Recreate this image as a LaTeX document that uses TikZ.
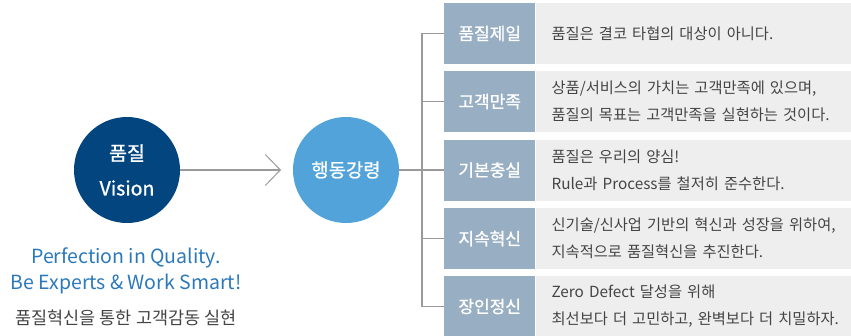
\documentclass[tikz,border=0pt]{standalone}
\usepackage{fontspec}
\setmainfont{Noto Sans CJK KR}
\newfontfamily\medfont{Noto Sans CJK KR}[FakeBold=1]
\usepackage{xcolor}
\usetikzlibrary{arrows.meta, positioning}
\definecolor{visionblue}{HTML}{03467F}
\definecolor{actionblue}{HTML}{52A3D9}
\definecolor{labelgray}{HTML}{98AFC3}
\definecolor{descgray}{HTML}{EEEEEE}
\definecolor{linkgray}{HTML}{9A9A9A}
\definecolor{mottoblue}{HTML}{2B79BA}
\definecolor{textdark}{HTML}{444444}

\begin{document}
\begin{tikzpicture}[x=1pt, y=-1pt,
    circlestyle/.style={circle, minimum size=106pt, inner sep=0pt, text=white,
      align=center},
    labelbox/.style={fill=labelgray, minimum width=91pt, minimum height=61pt,
      inner sep=0pt, text=white, font=\medfont\fontsize{17pt}{20pt}\selectfont,
      anchor=west},
    descbox/.style={fill=descgray, minimum height=61pt, text width=310pt,
      inner xsep=16pt, inner ysep=0pt, align=left, text=textdark,
      font=\fontsize{15.3pt}{27pt}\selectfont, anchor=west},
    linkstyle/.style={linkgray, line width=1.2pt}]
  \useasboundingbox (0,0) rectangle (851,335);
  % circles
  \node[circlestyle, fill=visionblue, font=\medfont\fontsize{19.5pt}{35pt}\selectfont]
    (vision) at (127,170) {품질\\Vision};
  \node[circlestyle, fill=actionblue, font=\medfont\fontsize{18.8pt}{22pt}\selectfont]
    (action) at (346,170) {행동강령};
  % motto under the first circle
  \node[text=mottoblue, align=center, font=\fontsize{19.5pt}{26.5pt}\selectfont]
    (motto) at (126,271) {Perfection in Quality.\\Be Experts \& Work Smart!};
  \node[text=textdark, font=\fontsize{17.5pt}{20pt}\selectfont]
    (slogan) at (126,318) {품질혁신을 통한 고객감동 실현};
  % rows: label + description
  \node[labelbox] (l1) at (444,33.5)  {품질제일};
  \node[labelbox] (l2) at (444,101.5) {고객만족};
  \node[labelbox] (l3) at (444,170)   {기본충실};
  \node[labelbox] (l4) at (444,238.5) {지속혁신};
  \node[labelbox] (l5) at (444,306.5) {장인정신};
  \node[descbox] (d1) at (l1.east) {품질은 결코 타협의 대상이 아니다.};
  \node[descbox] (d2) at (l2.east) {상품/서비스의 가치는 고객만족에 있으며,\\품질의 목표는 고객만족을 실현하는 것이다.};
  \node[descbox] (d3) at (l3.east) {품질은 우리의 양심!\\Rule과 Process를 철저히 준수한다.};
  \node[descbox] (d4) at (l4.east) {신기술/신사업 기반의 혁신과 성장을 위하여,\\지속적으로 품질혁신을 추진한다.};
  \node[descbox] (d5) at (l5.east) {Zero Defect 달성을 위해\\최선보다 더 고민하고, 완벽보다 더 치밀하자.};
  % connectors
  \coordinate (tip) at (281,170);
  \coordinate (trunk) at (422,170);
  \draw[linkstyle, -{Straight Barb[length=15pt, width=31pt, line width=1pt]}]
    (vision.east) -- (tip);
  \draw[linkstyle] (action.east) -- (l3.west);
  \draw[linkstyle] (l1.west) -| (trunk);
  \draw[linkstyle] (l5.west) -| (trunk);
  \draw[linkstyle] (l2.west) -- (l2.west -| trunk);
  \draw[linkstyle] (l4.west) -- (l4.west -| trunk);
\end{tikzpicture}
\end{document}
